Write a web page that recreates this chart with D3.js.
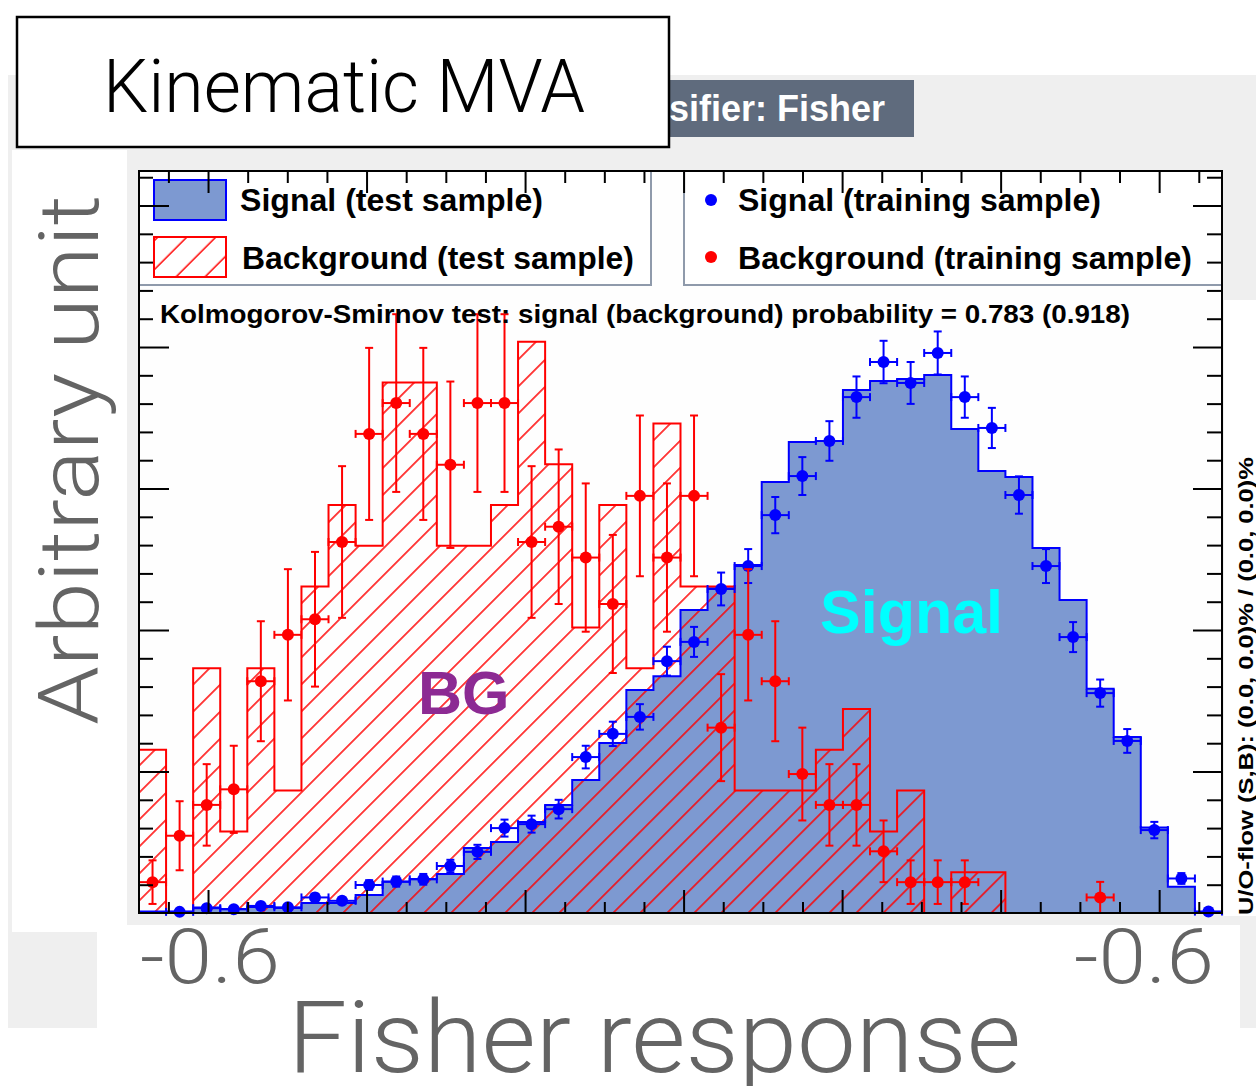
<!DOCTYPE html>
<html>
<head>
<meta charset="utf-8">
<script src="https://cdn.jsdelivr.net/npm/d3@7"></script>
<style>
  body { margin: 0; background: #fff; }
  svg { display: block; }
</style>
</head>
<body>
<script>
// ---- binning of the Fisher response (40 equal bins) ----
const binLow = -1.2871;
const binWidth = 0.03416;
const nBins = 40;

// ---- normalised distributions, (1/N) dN/dx ----
const sigTest = [0.005, 0.005, 0.019, 0.014, 0.021, 0.018, 0.035, 0.035, 0.064, 0.110,
                 0.120, 0.138, 0.230, 0.251, 0.322, 0.382, 0.470, 0.601, 0.788, 0.837,
                 1.071, 1.148, 1.230, 1.523, 1.664, 1.668, 1.848, 1.880, 1.887, 1.901,
                 1.710, 1.562, 1.541, 1.290, 1.106, 0.792, 0.622, 0.302, 0.093, 0.004];

const bkgTest = [0.577, 0.000, 0.865, 0.288, 0.865, 0.433, 1.154, 1.442, 1.298, 1.875,
                 1.875, 1.298, 1.298, 1.442, 2.019, 1.586, 1.009, 1.442, 0.865, 1.730,
                 1.154, 1.154, 0.433, 0.433, 0.433, 0.577, 0.721, 0.288, 0.433, 0.000,
                 0.144, 0.144, 0.000, 0.000, 0.000, 0.000, 0.000, 0.000, 0.000, 0.000];

const sigTrain = [0.000, 0.004, 0.017, 0.013, 0.025, 0.020, 0.055, 0.043, 0.099, 0.111,
                  0.119, 0.166, 0.216, 0.300, 0.314, 0.367, 0.551, 0.633, 0.693, 0.890,
                  0.958, 1.145, 1.226, 1.406, 1.544, 1.668, 1.823, 1.947, 1.873, 1.979,
                  1.823, 1.714, 1.477, 1.226, 0.975, 0.777, 0.608, 0.293, 0.122, 0.005];
const sigTrainErr = [0.000, 0.003, 0.007, 0.006, 0.008, 0.008, 0.013, 0.011, 0.017, 0.018,
                     0.019, 0.022, 0.025, 0.030, 0.030, 0.033, 0.040, 0.043, 0.045, 0.051,
                     0.053, 0.058, 0.060, 0.064, 0.067, 0.070, 0.073, 0.075, 0.074, 0.076,
                     0.073, 0.071, 0.066, 0.060, 0.053, 0.048, 0.042, 0.029, 0.019, 0.004];

const bkgTrain = [0.109, 0.273, 0.382, 0.437, 0.819, 0.983, 1.038, 1.311, 1.693, 1.802,
                  1.693, 1.584, 1.802, 1.802, 1.311, 1.365, 1.256, 1.092, 1.474, 1.256,
                  1.474, 0.655, 0.983, 0.819, 0.491, 0.382, 0.382, 0.218, 0.109, 0.109,
                  0.109, 0.000, 0.000, 0.000, 0.000, 0.055, 0.000, 0.000, 0.000, 0.000];
const bkgTrainErr = [0.077, 0.122, 0.144, 0.154, 0.212, 0.232, 0.238, 0.268, 0.304, 0.314,
                     0.304, 0.294, 0.314, 0.314, 0.268, 0.273, 0.262, 0.244, 0.284, 0.262,
                     0.284, 0.189, 0.232, 0.212, 0.164, 0.144, 0.144, 0.109, 0.077, 0.077,
                     0.077, 0.000, 0.000, 0.000, 0.000, 0.055, 0.000, 0.000, 0.000, 0.000];

// ---- axis ticks ----
const xMajorTicks = [-1.2, -1.0, -0.8, -0.6, -0.4, -0.2, 0.0];
const xMinorTicks = [-1.25, -1.15, -1.1, -1.05, -0.95, -0.9, -0.85, -0.75, -0.7, -0.65,
                     -0.55, -0.5, -0.45, -0.35, -0.3, -0.25, -0.15, -0.1, -0.05, 0.05];
const yMajorTicks = [0.5, 1.0, 1.5, 2.0, 2.5];
const yMinorTicks = [0.1, 0.2, 0.3, 0.4, 0.6, 0.7, 0.8, 0.9, 1.1, 1.2, 1.3, 1.4,
                     1.6, 1.7, 1.8, 1.9, 2.1, 2.2, 2.3, 2.4, 2.6];

// ---- texts ----
const titleText = "Kinematic MVA";
const bannerText = "TMVA overtraining check for classifier: Fisher";
const legendLeft = ["Signal (test sample)", "Background (test sample)"];
const legendRight = ["Signal (training sample)", "Background (training sample)"];
const ksText = "Kolmogorov-Smirnov test: signal (background) probability = 0.783 (0.918)";
const flowText = "U/O-flow (S,B): (0.0, 0.0)% / (0.0, 0.0)%";
const yTitle = "Arbitrary unit";
const xTitle = "Fisher response";
const xEndLabels = ["-0.6", "-0.6"];

const W = 1256, H = 1086;
const frame = { left: 139, right: 1222, top: 171, bottom: 913 };
const SIG_FILL = "#7d99d1", BLUE = "#0000ff", RED = "#ff0000";
const GREY_TXT = "#646464";
const BOLD = "'Liberation Sans', Arial, Helvetica, sans-serif";
const LIGHT = "Roboto, 'Liberation Sans', Arial, sans-serif";

const svg = d3.select("body").append("svg").attr("width", W).attr("height", H);

const defs = svg.append("defs");
const hatch = defs.append("pattern").attr("id", "hatch")
  .attr("patternUnits", "userSpaceOnUse").attr("width", 19.1).attr("height", 19.1)
  .attr("patternTransform", "rotate(45)");
hatch.append("line").attr("x1", 9.5).attr("x2", 9.5).attr("y1", -1).attr("y2", 21)
  .attr("stroke", RED).attr("stroke-width", 1.5);
const hatchL = defs.append("pattern").attr("id", "hatchLegend")
  .attr("patternUnits", "userSpaceOnUse").attr("width", 20.5).attr("height", 20.5)
  .attr("patternTransform", "translate(4,0) rotate(45)");
hatchL.append("line").attr("x1", 10).attr("x2", 10).attr("y1", -1).attr("y2", 22)
  .attr("stroke", RED).attr("stroke-width", 1.5);
// the banner is partly hidden by the title box
defs.append("clipPath").attr("id", "bannerClip")
  .append("rect").attr("x", 670).attr("y", 70).attr("width", 260).attr("height", 80);

// ---- canvas background ----
svg.append("rect").attr("x", 8).attr("y", 75).attr("width", W - 8).attr("height", 953)
  .attr("fill", "#efefef");
// light strip behind the under/overflow note
svg.append("rect").attr("x", 1224).attr("y", 300).attr("width", W - 1224).attr("height", 616)
  .attr("fill", "#fff");

// ---- scales ----
const x = d3.scaleLinear().domain([binLow, binLow + nBins * binWidth]).range([frame.left, frame.right]);
const y = d3.scaleLinear().domain([0, 2.622]).range([frame.bottom, frame.top]);

const edges = d3.range(nBins + 1).map(i => binLow + i * binWidth);
const centers = d3.range(nBins).map(i => binLow + (i + 0.5) * binWidth);

// frame fill
svg.append("rect").attr("x", frame.left).attr("y", frame.top)
  .attr("width", frame.right - frame.left).attr("height", frame.bottom - frame.top)
  .attr("fill", "#fefefe");

const plot = svg.append("g");

function stepVertices(vals) {
  const pts = [[x(edges[0]), y(0)]];
  vals.forEach((v, i) => {
    pts.push([x(edges[i]), y(v)]);
    pts.push([x(edges[i + 1]), y(v)]);
  });
  pts.push([x(edges[nBins]), y(0)]);
  return pts;
}
const line = d3.line();

// signal (test) filled histogram
plot.append("path").attr("d", line(stepVertices(sigTest)) + "Z")
  .attr("fill", SIG_FILL).attr("stroke", "none");
// background (test) hatched histogram
plot.append("path").attr("d", line(stepVertices(bkgTest)) + "Z")
  .attr("fill", "url(#hatch)").attr("stroke", "none");
plot.append("path").attr("d", line(stepVertices(sigTest)))
  .attr("fill", "none").attr("stroke", BLUE).attr("stroke-width", 2);
plot.append("path").attr("d", line(stepVertices(bkgTest)))
  .attr("fill", "none").attr("stroke", RED).attr("stroke-width", 2);

// training samples: markers with error bars
function drawPoints(vals, errs, color) {
  const g = plot.append("g").attr("stroke", color).attr("fill", color).attr("stroke-width", 2);
  vals.forEach((v, i) => {
    if (v <= 0) return;
    const cx = x(centers[i]), cy = y(v);
    const x0 = x(edges[i]), x1 = x(edges[i + 1]);
    const yl = y(v - errs[i]), yh = y(v + errs[i]);
    const cap = 4;
    g.append("line").attr("x1", x0).attr("x2", x1).attr("y1", cy).attr("y2", cy);
    g.append("line").attr("x1", x0).attr("x2", x0).attr("y1", cy - cap).attr("y2", cy + cap);
    g.append("line").attr("x1", x1).attr("x2", x1).attr("y1", cy - cap).attr("y2", cy + cap);
    if (yl - yh > 2) {
      g.append("line").attr("x1", cx).attr("x2", cx).attr("y1", yl).attr("y2", yh);
      g.append("line").attr("x1", cx - cap).attr("x2", cx + cap).attr("y1", yl).attr("y2", yl);
      g.append("line").attr("x1", cx - cap).attr("x2", cx + cap).attr("y1", yh).attr("y2", yh);
    }
    g.append("circle").attr("cx", cx).attr("cy", cy).attr("r", 6).attr("stroke", "none");
  });
}
drawPoints(sigTrain, sigTrainErr, BLUE);
drawPoints(bkgTrain, bkgTrainErr, RED);

// in-plot labels
svg.append("text").attr("x", 820).attr("y", 633).text("Signal")
  .attr("font-family", BOLD).attr("font-weight", "bold").attr("font-size", 61)
  .attr("fill", "#00ffff");
svg.append("text").attr("x", 418).attr("y", 714).text("BG")
  .attr("font-family", BOLD).attr("font-weight", "bold").attr("font-size", 61)
  .attr("fill", "#8c2a93");

// ---- legends ----
const legBorder = "#8f9aab";
svg.append("rect").attr("x", frame.left).attr("y", frame.top).attr("width", 651 - frame.left)
  .attr("height", 285 - frame.top).attr("fill", "#fff").attr("stroke", legBorder).attr("stroke-width", 2);
svg.append("rect").attr("x", 684).attr("y", frame.top).attr("width", frame.right - 684)
  .attr("height", 285 - frame.top).attr("fill", "#fff").attr("stroke", legBorder).attr("stroke-width", 2);

svg.append("rect").attr("x", 154).attr("y", 180).attr("width", 72).attr("height", 40)
  .attr("fill", SIG_FILL).attr("stroke", BLUE).attr("stroke-width", 2);
svg.append("rect").attr("x", 154).attr("y", 237).attr("width", 72).attr("height", 40)
  .attr("fill", "url(#hatchLegend)").attr("stroke", RED).attr("stroke-width", 2);
svg.append("circle").attr("cx", 711).attr("cy", 200).attr("r", 6).attr("fill", BLUE);
svg.append("circle").attr("cx", 711).attr("cy", 257).attr("r", 6).attr("fill", RED);

const fitText = (t, len) => t.attr("textLength", len).attr("lengthAdjust", "spacingAndGlyphs");
const legFont = t => t.attr("font-family", BOLD).attr("font-weight", "bold").attr("font-size", 31).attr("fill", "#000");
legFont(fitText(svg.append("text").attr("x", 240).attr("y", 211).text(legendLeft[0]), 303));
legFont(fitText(svg.append("text").attr("x", 242).attr("y", 269).text(legendLeft[1]), 392));
legFont(fitText(svg.append("text").attr("x", 738).attr("y", 211).text(legendRight[0]), 363));
legFont(fitText(svg.append("text").attr("x", 738).attr("y", 269).text(legendRight[1]), 454));

fitText(svg.append("text").attr("x", 160).attr("y", 323).text(ksText), 970)
  .attr("font-family", BOLD).attr("font-weight", "bold").attr("font-size", 25)
  .attr("fill", "#000");

// ---- axes: ticks on all four sides ----
const tickStyle = g => {
  g.select(".domain").remove();
  g.selectAll("line").attr("stroke", "#000").attr("stroke-width", 2);
};
svg.append("g").attr("transform", `translate(0,${frame.bottom})`)
  .call(d3.axisBottom(x).tickValues(xMinorTicks).tickSize(-11).tickFormat("")).call(tickStyle);
svg.append("g").attr("transform", `translate(0,${frame.bottom})`)
  .call(d3.axisBottom(x).tickValues(xMajorTicks).tickSize(-23).tickFormat("")).call(tickStyle);
svg.append("g").attr("transform", `translate(0,${frame.top})`)
  .call(d3.axisTop(x).tickValues(xMinorTicks).tickSize(-12).tickFormat("")).call(tickStyle);
svg.append("g").attr("transform", `translate(0,${frame.top})`)
  .call(d3.axisTop(x).tickValues(xMajorTicks).tickSize(-22).tickFormat("")).call(tickStyle);
svg.append("g").attr("transform", `translate(${frame.left},0)`)
  .call(d3.axisLeft(y).tickValues(yMinorTicks).tickSize(-14).tickFormat("")).call(tickStyle);
svg.append("g").attr("transform", `translate(${frame.left},0)`)
  .call(d3.axisLeft(y).tickValues(yMajorTicks).tickSize(-30).tickFormat("")).call(tickStyle);
svg.append("g").attr("transform", `translate(${frame.right},0)`)
  .call(d3.axisRight(y).tickValues(yMinorTicks).tickSize(-15).tickFormat("")).call(tickStyle);
svg.append("g").attr("transform", `translate(${frame.right},0)`)
  .call(d3.axisRight(y).tickValues(yMajorTicks).tickSize(-29).tickFormat("")).call(tickStyle);

svg.append("rect").attr("x", frame.left).attr("y", frame.top)
  .attr("width", frame.right - frame.left).attr("height", frame.bottom - frame.top)
  .attr("fill", "none").attr("stroke", "#000").attr("stroke-width", 2);

// under/overflow note on the right margin
fitText(svg.append("text").attr("transform", "translate(1253,915) rotate(-90)").text(flowText), 458)
  .attr("font-family", BOLD).attr("font-weight", "bold").attr("font-size", 21)
  .attr("fill", "#000");

// ---- banner with classifier name ----
svg.append("rect").attr("x", 300).attr("y", 80).attr("width", 614).attr("height", 57)
  .attr("fill", "#5f6b7d");
svg.append("text").attr("x", 885).attr("y", 121).attr("text-anchor", "end").text(bannerText)
  .attr("clip-path", "url(#bannerClip)")
  .attr("font-family", BOLD).attr("font-weight", "bold").attr("font-size", 36).attr("fill", "#fff");

// ---- title box ----
svg.append("rect").attr("x", 17).attr("y", 17).attr("width", 652).attr("height", 130)
  .attr("fill", "#fff").attr("stroke", "#000").attr("stroke-width", 2.5);
fitText(svg.append("text").attr("x", 103).attr("y", 112).text(titleText), 482)
  .attr("font-family", LIGHT).attr("font-weight", 300).attr("font-size", 75)
  .attr("fill", "#000");

// ---- axis titles ----
svg.append("rect").attr("x", 12).attr("y", 150).attr("width", 115).attr("height", 782).attr("fill", "#fff");
svg.append("rect").attr("x", 97).attr("y", 925).attr("width", 1143).attr("height", 161).attr("fill", "#fff");
svg.append("rect").attr("x", 0).attr("y", 1028).attr("width", W).attr("height", 58).attr("fill", "#fff");

fitText(svg.append("text").attr("transform", "translate(98,725) rotate(-90)").text(yTitle), 530)
  .attr("font-family", LIGHT).attr("font-weight", 300).attr("font-size", 84)
  .attr("fill", GREY_TXT);
fitText(svg.append("text").attr("x", 140).attr("y", 983).text(xEndLabels[0]), 140)
  .attr("font-family", LIGHT).attr("font-weight", 300).attr("font-size", 76)
  .attr("fill", GREY_TXT);
fitText(svg.append("text").attr("x", 1074).attr("y", 983).text(xEndLabels[1]), 140)
  .attr("font-family", LIGHT).attr("font-weight", 300).attr("font-size", 76)
  .attr("fill", GREY_TXT);
fitText(svg.append("text").attr("x", 288).attr("y", 1072).text(xTitle), 733)
  .attr("font-family", LIGHT).attr("font-weight", 300).attr("font-size", 100)
  .attr("fill", GREY_TXT);
</script>
</body>
</html>
